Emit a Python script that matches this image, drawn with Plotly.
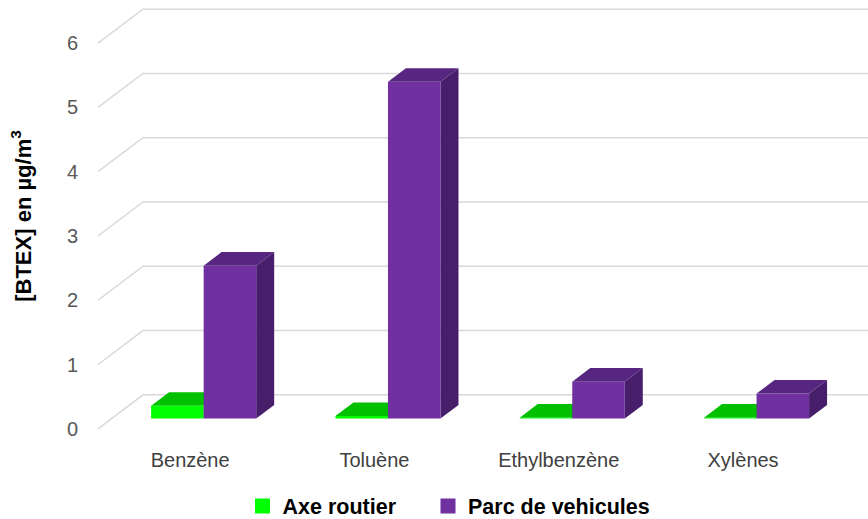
import plotly.graph_objects as go

# ---- data ----
categories = ["Benzène", "Toluène", "Ethylbenzène", "Xylènes"]
axe_routier = [0.2, 0.04, 0.015, 0.015]
parc_vehicules = [2.38, 5.24, 0.575, 0.39]
tick_values = [0, 1, 2, 3, 4, 5, 6]
series_names = ["Axe routier", "Parc de vehicules"]

# ---- 3D look parameters (in axis units) ----
DX = 0.2442          # full depth, x direction
DY = 0.5288          # full depth, y direction
BAR_FRONT = 0.3      # bar front plane as fraction of depth
BAR_DEPTH = 0.4      # bar depth as fraction of depth
BAR_W = 0.285

colors = {
    "Axe routier": dict(front="#00FF00", top="#00C000", side="#009900"),
    "Parc de vehicules": dict(front="#7030A0", top="#572681", side="#461E6A"),
}

XMIN, XMAX = -0.5434, 3.678
YMIN, YMAX = -0.05, 6.672

fig = go.Figure()

# gridlines: diagonal on the left side wall + horizontal on the back wall
gx, gy = [], []
for v in tick_values:
    gx += [-0.5, -0.5 + DX, 3.5 + DX + 0.5, None]
    gy += [v, v + DY, v + DY, None]
fig.add_trace(go.Scatter(x=gx, y=gy, mode="lines",
                         line=dict(color="#D9D9D9", width=1.5),
                         hoverinfo="skip", showlegend=False))


def poly(xs, ys, color):
    fig.add_trace(go.Scatter(x=xs + [xs[0]], y=ys + [ys[0]], mode="lines",
                             fill="toself", fillcolor=color,
                             line=dict(width=0, color=color),
                             hoverinfo="skip", showlegend=False))


fx = BAR_FRONT * DX
fy = BAR_FRONT * DY
ddx = BAR_DEPTH * DX
ddy = BAR_DEPTH * DY

for i, cat in enumerate(categories):
    for j, (name, vals) in enumerate(zip(series_names, [axe_routier, parc_vehicules])):
        v = vals[i]
        c = colors[name]
        x0 = i + fx + (j - 1) * BAR_W
        x1 = x0 + BAR_W
        b = fy
        t = fy + v
        # side face
        poly([x1, x1, x1 + ddx, x1 + ddx], [b, t, t + ddy, b + ddy], c["side"])
        # top face
        poly([x0, x1, x1 + ddx, x0 + ddx], [t, t, t + ddy, t + ddy], c["top"])
        # front face
        poly([x0, x1, x1, x0], [b, b, t, t], c["front"])

# legend entries (one legend per series so they can be placed independently)
legend_ids = ["legend", "legend2"]
for name, lid in zip(series_names, legend_ids):
    fig.add_trace(go.Scatter(x=[None], y=[None], mode="markers", name=name,
                             legend=lid,
                             marker=dict(symbol="square", size=15,
                                         color=colors[name]["front"])))

legend_common = dict(orientation="h", xref="container", yref="container",
                     xanchor="left", y=0.025, yanchor="middle",
                     font=dict(size=21.5, color="#000000", weight="bold"),
                     itemclick=False, itemdoubleclick=False,
                     bgcolor="rgba(0,0,0,0)")

fig.update_layout(
    width=868, height=519,
    margin=dict(l=90, r=0, t=0, b=87, pad=0),
    plot_bgcolor="white", paper_bgcolor="white",
    font=dict(family="Liberation Sans, Arial, sans-serif"),
    legend=dict(legend_common, x=(262.5 - 20) / 868),
    legend2=dict(legend_common, x=(448 - 20) / 868),
    xaxis=dict(range=[XMIN, XMAX], showgrid=False, zeroline=False,
               showline=False, ticks="", tickmode="array",
               tickvals=list(range(len(categories))), ticktext=categories,
               tickfont=dict(size=20, color="#404040"),
               ticklabelstandoff=14, fixedrange=True),
    yaxis=dict(range=[YMIN, YMAX], showgrid=False, zeroline=False,
               showline=False, ticks="", tickmode="array",
               tickvals=tick_values, ticktext=[str(v) for v in tick_values],
               tickfont=dict(size=20, color="#595959"),
               ticklabelstandoff=11, fixedrange=True,
               title=dict(text="<b>[BTEX] en µg/m<sup>3</sup></b>",
                          font=dict(size=22, color="#000000"), standoff=29)),
    showlegend=True,
)

fig.write_html("out.html")
